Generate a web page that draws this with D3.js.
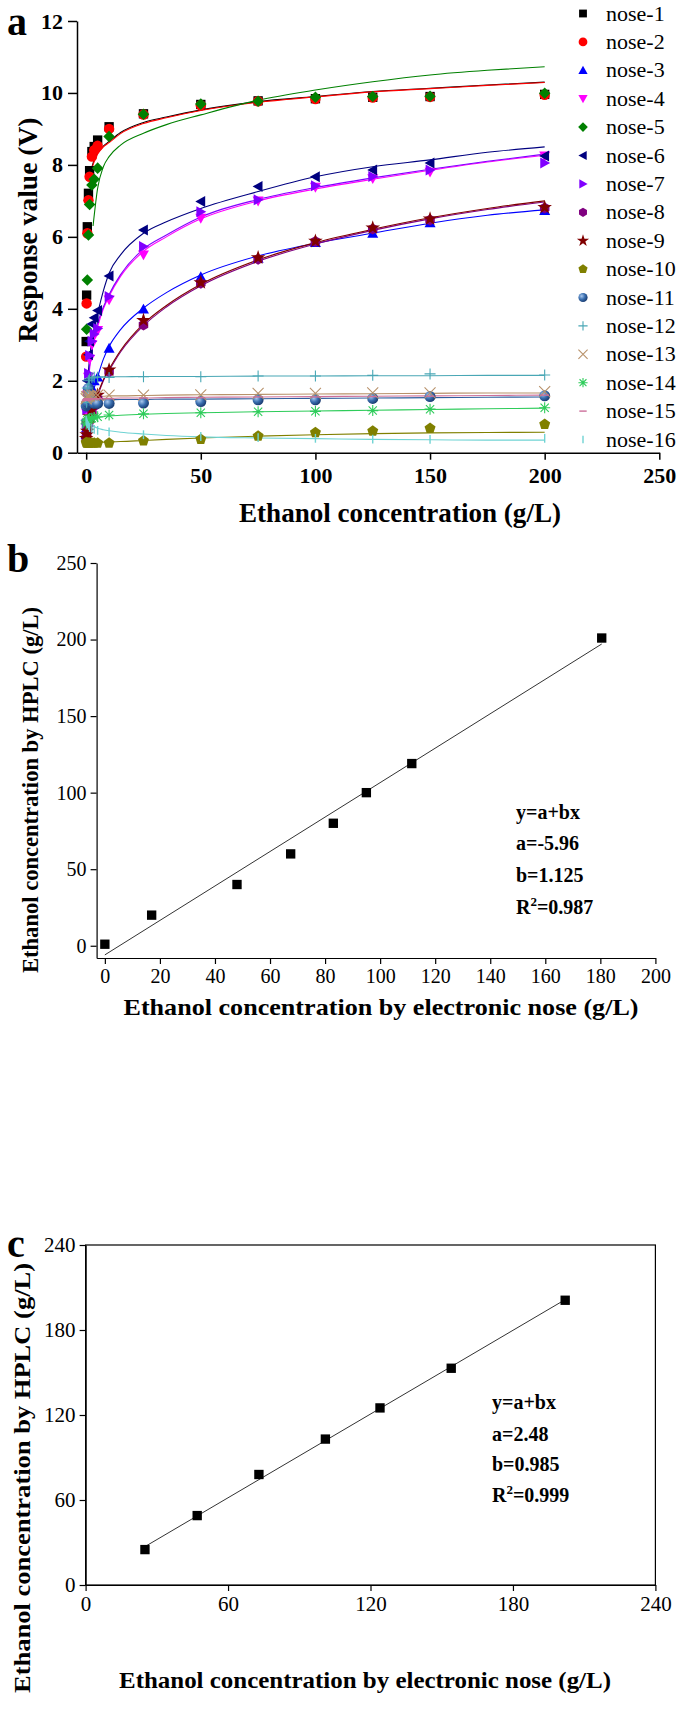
<!DOCTYPE html>
<html><head><meta charset="utf-8">
<script src="https://cdn.jsdelivr.net/npm/d3@7"></script>
<style>
body{margin:0;background:#fff}
svg{display:block}
text{font-family:"Liberation Serif","Times New Roman",serif;fill:#000}
</style>
</head><body>
<svg id="fig" width="685" height="1720"></svg>
<script>
// ---------------- Panel a data ----------------
const concentrations = [0,0.2,0.5,1,1.5,2.5,3.5,5,10,25,50,75,100,125,150,200];
const seriesNames = ["nose-1","nose-2","nose-3","nose-4","nose-5","nose-6","nose-7","nose-8","nose-9","nose-10","nose-11","nose-12","nose-13","nose-14","nose-15","nose-16"];
const nose1  = [3.09,4.38,6.28,7.21,7.84,8.37,8.51,8.69,9.06,9.42,9.68,9.78,9.84,9.88,9.90,9.96];
const nose2  = [2.67,4.15,6.10,7.02,7.67,8.23,8.41,8.53,9.00,9.40,9.66,9.77,9.83,9.87,9.89,9.95];
const nose3  = [0.50,0.70,0.90,1.20,1.50,1.80,2.00,2.10,2.90,3.99,4.89,5.40,5.84,6.10,6.39,6.73];
const nose4  = [0.70,1.10,1.60,2.10,2.60,3.00,3.25,3.40,4.25,5.50,6.52,7.00,7.38,7.62,7.80,8.25];
const nose5  = [null,3.43,4.80,6.05,6.90,7.44,7.60,7.91,8.79,9.41,9.69,9.77,9.88,9.90,9.91,9.99];
const nose6  = [0.90,1.40,2.00,2.72,3.10,3.58,3.75,3.95,4.91,6.19,6.98,7.40,7.67,7.86,8.05,8.25];
const nose7  = [0.80,1.20,1.70,2.20,2.70,3.10,3.30,3.45,4.34,5.73,6.70,7.03,7.42,7.68,7.86,8.05];
const nose8  = [0.40,0.50,0.60,0.80,0.90,1.10,1.30,1.50,2.25,3.55,4.71,5.38,5.87,6.22,6.47,6.80];
const nose9  = [0.40,0.50,0.60,0.80,1.00,1.20,1.40,1.60,2.30,3.68,4.73,5.42,5.88,6.25,6.50,6.82];
const nose10 = [0.28,0.27,0.27,0.27,0.27,0.27,0.27,0.27,0.27,0.33,0.37,0.46,0.56,0.60,0.68,0.79];
const nose11 = [1.30,1.35,1.40,1.79,1.60,1.45,1.37,1.37,1.37,1.38,1.42,1.47,1.47,1.51,1.56,1.58];
const nose12 = [0.90,1.40,1.80,2.00,2.05,2.08,2.10,2.10,2.09,2.11,2.11,2.13,2.13,2.15,2.19,2.16];
const nose13 = [1.50,1.55,1.55,1.58,1.58,1.60,1.60,1.60,1.60,1.60,1.61,1.65,1.65,1.66,1.66,1.70];
const nose14 = [0.80,0.85,0.90,0.93,0.95,0.96,0.98,1.00,1.05,1.08,1.11,1.14,1.15,1.17,1.21,1.25];
const nose15 = [1.45,1.47,1.50,1.50,1.50,1.50,1.50,1.50,1.50,1.52,1.53,1.55,1.55,1.56,1.57,1.60];
const nose16 = [0.90,0.85,0.80,0.75,0.70,0.68,0.65,0.62,0.58,0.50,0.45,0.42,0.40,0.38,0.37,0.40];

const fitX   = [0.5,1,2,3,5,7.5,10,15,25,35,50,75,100,125,150,175,200];
const fit1  = [null,null,7.80,8.05,8.33,8.52,8.65,8.90,9.18,9.33,9.53,9.76,9.90,10.04,10.13,10.22,10.30];
const fit2  = [null,null,7.75,8.00,8.30,8.50,8.62,8.87,9.15,9.31,9.51,9.74,9.89,10.03,10.12,10.21,10.29];
const fit3  = [null,1.20,1.50,1.70,2.11,2.60,2.95,3.42,4.02,4.45,4.94,5.47,5.82,6.10,6.38,6.60,6.75];
const fit4  = [1.60,2.00,2.60,3.00,3.50,4.00,4.35,4.90,5.60,6.00,6.50,7.00,7.33,7.60,7.85,8.08,8.27];
const fit5  = [null,null,null,6.30,7.35,7.95,8.23,8.55,8.88,9.12,9.39,9.80,10.08,10.31,10.50,10.63,10.73];
const fit6  = [1.90,2.30,2.90,3.30,3.87,4.50,4.99,5.50,6.10,6.42,6.79,7.26,7.67,7.95,8.14,8.35,8.50];
const fit7  = [1.70,2.10,2.70,3.10,3.60,4.05,4.40,4.95,5.66,6.05,6.55,7.04,7.37,7.64,7.88,8.10,8.30];
const fit8  = [null,null,0.60,1.00,1.55,2.00,2.28,2.80,3.53,4.05,4.64,5.32,5.80,6.18,6.50,6.76,6.97];
const fit9  = [null,null,0.62,1.03,1.60,2.03,2.32,2.84,3.58,4.09,4.68,5.36,5.84,6.21,6.53,6.79,7.00];
const fit10 = [0.28,0.28,0.28,0.28,0.29,0.29,0.30,0.31,0.34,0.37,0.41,0.46,0.50,0.53,0.55,0.56,0.57];
const fit11 = [1.45,1.46,1.46,1.47,1.47,1.47,1.47,1.48,1.48,1.49,1.49,1.50,1.51,1.52,1.53,1.54,1.55];
const fit12 = [1.20,1.70,2.02,2.08,2.10,2.11,2.11,2.11,2.12,2.12,2.12,2.13,2.13,2.14,2.14,2.15,2.15];
const fit13 = [1.50,1.53,1.55,1.56,1.57,1.57,1.58,1.58,1.59,1.60,1.61,1.62,1.63,1.64,1.65,1.66,1.66];
const fit14 = [0.80,0.85,0.90,0.93,0.97,1.00,1.02,1.04,1.07,1.09,1.11,1.14,1.16,1.18,1.20,1.22,1.24];
const fit15 = [1.48,1.49,1.50,1.50,1.50,1.51,1.51,1.52,1.52,1.53,1.54,1.55,1.56,1.57,1.58,1.59,1.60];
const fit16 = [1.00,0.90,0.80,0.75,0.68,0.64,0.61,0.57,0.52,0.48,0.44,0.41,0.39,0.37,0.36,0.35,0.35];

const aXTicks = [0,50,100,150,200,250];
const aYTicks = [0,2,4,6,8,10,12];

// ---------------- Panel b data ----------------
const bNose = [0,17,48,67.5,83,95,111.5,180.5];
const bHplc = [1,20,40,60,80,100,119,201];
const bFit = {a:-5.96, b:1.125, r2:"0.987"};
const bXTicks = [0,20,40,60,80,100,120,140,160,180,200];
const bYTicks = [0,50,100,150,200,250];

// ---------------- Panel c data ----------------
const cNose = [25,47,73,101,124,154,202];
const cHplc = [25,49,78,103,125,153,201];
const cFit = {a:2.48, b:0.985, r2:"0.999"};
const cXTicks = [0,60,120,180,240];
const cYTicks = [0,60,120,180,240];

// ---------------- styles ----------------
const colors = ["#000000","#ff0000","#0000ff","#ff00ff","#008000","#000080","#8000ff","#800080","#800000","#808000","#2f5f9f","#49a7b5","#b8916a","#2ecc5a","#cc6f9a","#6fd3d3"];
const shapes = ["square","circle","triUp","triDown","diamond","triLeft","triRight","hexagon","star","pentagon","sphere","plus","cross","asterisk","dash","vbar"];
const allNose = [nose1,nose2,nose3,nose4,nose5,nose6,nose7,nose8,nose9,nose10,nose11,nose12,nose13,nose14,nose15,nose16];
const allFit = [fit1,fit2,fit3,fit4,fit5,fit6,fit7,fit8,fit9,fit10,fit11,fit12,fit13,fit14,fit15,fit16];

const svg = d3.select("#fig");
const defs = svg.append("defs");
const grad = defs.append("radialGradient").attr("id","sph").attr("cx","35%").attr("cy","35%").attr("r","65%");
grad.append("stop").attr("offset","0%").attr("stop-color","#a9c8ee");
grad.append("stop").attr("offset","55%").attr("stop-color","#3a6fb0");
grad.append("stop").attr("offset","100%").attr("stop-color","#1c3f75");

function poly(n, r, rot){
  const pts=[];
  for(let i=0;i<n;i++){const a=rot+i*2*Math.PI/n; pts.push([r*Math.cos(a), r*Math.sin(a)]);}
  return "M"+pts.map(p=>p[0].toFixed(2)+","+p[1].toFixed(2)).join("L")+"Z";
}
function drawMarker(g, shape, x, y, r, color){
  const t = `translate(${x},${y})`;
  const sw = 1.1;
  switch(shape){
    case "square": g.append("rect").attr("x",x-r*0.85).attr("y",y-r*0.85).attr("width",r*1.7).attr("height",r*1.7).attr("fill",color); break;
    case "circle": g.append("circle").attr("cx",x).attr("cy",y).attr("r",r*0.95).attr("fill",color); break;
    case "triUp": g.append("path").attr("transform",t).attr("d",`M0,${-r}L${r},${r*0.8}L${-r},${r*0.8}Z`).attr("fill",color); break;
    case "triDown": g.append("path").attr("transform",t).attr("d",`M0,${r}L${r},${-r*0.8}L${-r},${-r*0.8}Z`).attr("fill",color); break;
    case "triLeft": g.append("path").attr("transform",t).attr("d",`M${-r},0L${r*0.8},${-r}L${r*0.8},${r}Z`).attr("fill",color); break;
    case "triRight": g.append("path").attr("transform",t).attr("d",`M${r},0L${-r*0.8},${-r}L${-r*0.8},${r}Z`).attr("fill",color); break;
    case "diamond": g.append("path").attr("transform",t).attr("d",`M0,${-r*1.05}L${r*1.05},0L0,${r*1.05}L${-r*1.05},0Z`).attr("fill",color); break;
    case "hexagon": g.append("path").attr("transform",t).attr("d",poly(6,r,Math.PI/6)).attr("fill",color); break;
    case "pentagon": g.append("path").attr("transform",t).attr("d",poly(5,r*1.05,-Math.PI/2)).attr("fill",color); break;
    case "star": g.append("path").attr("transform",t).attr("d",d3.symbol(d3.symbolStar, r*r*2.2)()).attr("fill",color); break;
    case "sphere": g.append("circle").attr("cx",x).attr("cy",y).attr("r",r).attr("fill","url(#sph)"); break;
    case "plus": g.append("path").attr("transform",t).attr("d",`M${-r},0H${r}M0,${-r}V${r}`).attr("stroke",color).attr("stroke-width",sw).attr("fill","none"); break;
    case "cross": g.append("path").attr("transform",t).attr("d",`M${-r},${-r}L${r},${r}M${-r},${r}L${r},${-r}`).attr("stroke",color).attr("stroke-width",sw).attr("fill","none"); break;
    case "asterisk": g.append("path").attr("transform",t).attr("d",`M${-r},0H${r}M0,${-r}V${r}M${-r*0.75},${-r*0.75}L${r*0.75},${r*0.75}M${-r*0.75},${r*0.75}L${r*0.75},${-r*0.75}`).attr("stroke",color).attr("stroke-width",sw).attr("fill","none"); break;
    case "dash": g.append("path").attr("transform",t).attr("d",`M${-r*0.8},0H${r*0.8}`).attr("stroke",color).attr("stroke-width",1.4).attr("fill","none"); break;
    case "vbar": g.append("path").attr("transform",t).attr("d",`M0,${-r*0.8}V${r*0.8}`).attr("stroke",color).attr("stroke-width",1.4).attr("fill","none"); break;
  }
}

function styleAxis(g, fs, bold){
  g.selectAll("path.domain").attr("stroke","#000").attr("stroke-width",1.5);
  g.selectAll(".tick line").attr("stroke","#000").attr("stroke-width",1.5);
  g.selectAll(".tick text").attr("font-family","Liberation Serif, Times New Roman, serif")
    .attr("font-size",fs).attr("font-weight",bold?"bold":"normal").attr("fill","#000");
}
function title(g, txt, x, y, fs, len, rotate){
  const t = g.append("text").attr("text-anchor","middle").attr("font-size",fs).attr("font-weight","bold")
    .attr("lengthAdjust","spacingAndGlyphs").attr("textLength",len).text(txt);
  if(rotate) t.attr("transform",`translate(${x},${y}) rotate(-90)`);
  else t.attr("x",x).attr("y",y);
  return t;
}

// ================= PANEL A =================
(function(){
  const x = d3.scaleLinear().domain([-4,250]).range([77,659.3]);
  const y = d3.scaleLinear().domain([0,12]).range([452.7,21]);
  const g = svg.append("g");
  const xa = g.append("g").attr("transform",`translate(0,${y(0)})`)
    .call(d3.axisBottom(x).tickValues(aXTicks).tickSize(7).tickSizeOuter(0).tickPadding(8));
  styleAxis(xa,22,true);
  const ya = g.append("g").attr("transform",`translate(${x(-4)},0)`)
    .call(d3.axisLeft(y).tickValues(aYTicks).tickSize(9).tickSizeOuter(0).tickPadding(5));
  styleAxis(ya,22,true);

  const line = d3.line().defined(d=>d[1]!=null).x(d=>x(d[0])).y(d=>y(d[1])).curve(d3.curveMonotoneX);
  allFit.forEach((f,i)=>{
    const pts = fitX.map((xv,j)=>[xv,f[j]]).filter(d=>d[1]!=null);
    g.append("path").attr("d",line(pts)).attr("fill","none").attr("stroke",colors[i]).attr("stroke-width",1.1);
  });
  const mg = g.append("g");
  allNose.forEach((s,i)=>{
    s.forEach((v,j)=>{ if(v!=null) drawMarker(mg, shapes[i], x(concentrations[j]), y(v), 5.5, colors[i]); });
  });
  const lg = g.append("g");
  seriesNames.forEach((n,i)=>{
    const cy = 13.5 + i*28.4;
    drawMarker(lg, shapes[i], 583, cy, 4.6, colors[i]);
    lg.append("text").attr("x",606).attr("y",cy+7).attr("font-size",22).text(n);
  });
  g.append("text").attr("x",7).attr("y",35).attr("font-size",40).attr("font-weight","bold").text("a");
  title(g,"Response value (V)",37,230,27,225,true);
  title(g,"Ethanol concentration (g/L)",400,522,27,322,false);
})();

// ================= PANEL B =================
(function(){
  const x = d3.scaleLinear().domain([-3,200]).range([96.6,655.4]);
  const y = d3.scaleLinear().domain([-8,250]).range([958,563]);
  const g = svg.append("g");
  const xa = g.append("g").attr("transform",`translate(0,${y(-8)})`)
    .call(d3.axisBottom(x).tickValues(bXTicks).tickSize(6).tickSizeOuter(0).tickPadding(5));
  styleAxis(xa,20,false);
  xa.selectAll("path.domain,.tick line").attr("stroke-width",1.2);
  const ya = g.append("g").attr("transform",`translate(${x(-3)},0)`)
    .call(d3.axisLeft(y).tickValues(bYTicks).tickSize(6).tickSizeOuter(0).tickPadding(4));
  styleAxis(ya,20,false);
  ya.selectAll("path.domain,.tick line").attr("stroke-width",1.2);
  const fx = [0, d3.max(bNose)];
  g.append("line").attr("x1",x(fx[0])).attr("y1",y(bFit.a+bFit.b*fx[0])).attr("x2",x(fx[1])).attr("y2",y(bFit.a+bFit.b*fx[1]))
    .attr("stroke","#333").attr("stroke-width",1);
  bNose.forEach((v,i)=>{ drawMarker(g,"square",x(v),y(bHplc[i]),5.5,"#000"); });
  g.append("text").attr("x",7).attr("y",572).attr("font-size",40).attr("font-weight","bold").text("b");
  title(g,"Ethanol concentration by HPLC (g/L)",38,790,22.5,366,true);
  title(g,"Ethanol concentration by electronic nose (g/L)",381,1015,23.5,515,false);
  const ann = g.append("g").attr("font-size",20).attr("font-weight","bold");
  ann.append("text").attr("x",516).attr("y",819).text("y=a+bx");
  ann.append("text").attr("x",516).attr("y",850).text("a="+bFit.a);
  ann.append("text").attr("x",516).attr("y",882).text("b="+bFit.b);
  const r = ann.append("text").attr("x",516).attr("y",914);
  r.append("tspan").text("R");
  r.append("tspan").attr("dy",-8).attr("font-size",13).text("2");
  r.append("tspan").attr("dy",8).text("="+bFit.r2);
})();

// ================= PANEL C =================
(function(){
  const x = d3.scaleLinear().domain([0,240]).range([85.6,655.4]);
  const y = d3.scaleLinear().domain([0,240]).range([1585,1245]);
  const g = svg.append("g");
  g.append("rect").attr("x",x(0)).attr("y",y(240)).attr("width",x(240)-x(0)).attr("height",y(0)-y(240))
    .attr("fill","none").attr("stroke","#000").attr("stroke-width",1.2);
  const xa = g.append("g").attr("transform",`translate(0,${y(0)})`)
    .call(d3.axisBottom(x).tickValues(cXTicks).tickSize(6).tickSizeOuter(0).tickPadding(5));
  styleAxis(xa,21,false);
  xa.selectAll("path.domain,.tick line").attr("stroke-width",1.2);
  const ya = g.append("g").attr("transform",`translate(${x(0)},0)`)
    .call(d3.axisLeft(y).tickValues(cYTicks).tickSize(6).tickSizeOuter(0).tickPadding(4));
  styleAxis(ya,21,false);
  ya.selectAll("path.domain,.tick line").attr("stroke-width",1.2);
  const fx = [d3.min(cNose), d3.max(cNose)];
  g.append("line").attr("x1",x(fx[0])).attr("y1",y(cFit.a+cFit.b*fx[0])).attr("x2",x(fx[1])).attr("y2",y(cFit.a+cFit.b*fx[1]))
    .attr("stroke","#333").attr("stroke-width",1);
  cNose.forEach((v,i)=>{ drawMarker(g,"square",x(v),y(cHplc[i]),5.5,"#000"); });
  g.append("text").attr("x",7).attr("y",1257).attr("font-size",40).attr("font-weight","bold").text("c");
  title(g,"Ethanol concentration by HPLC (g/L)",30,1478,24,430,true);
  title(g,"Ethanol concentration by electronic nose (g/L)",365,1688,24,492,false);
  const ann = g.append("g").attr("font-size",20).attr("font-weight","bold");
  ann.append("text").attr("x",492).attr("y",1409).text("y=a+bx");
  ann.append("text").attr("x",492).attr("y",1441).text("a="+cFit.a);
  ann.append("text").attr("x",492).attr("y",1471).text("b="+cFit.b);
  const r = ann.append("text").attr("x",492).attr("y",1502);
  r.append("tspan").text("R");
  r.append("tspan").attr("dy",-8).attr("font-size",13).text("2");
  r.append("tspan").attr("dy",8).text("="+cFit.r2);
})();
</script>
</body></html>
